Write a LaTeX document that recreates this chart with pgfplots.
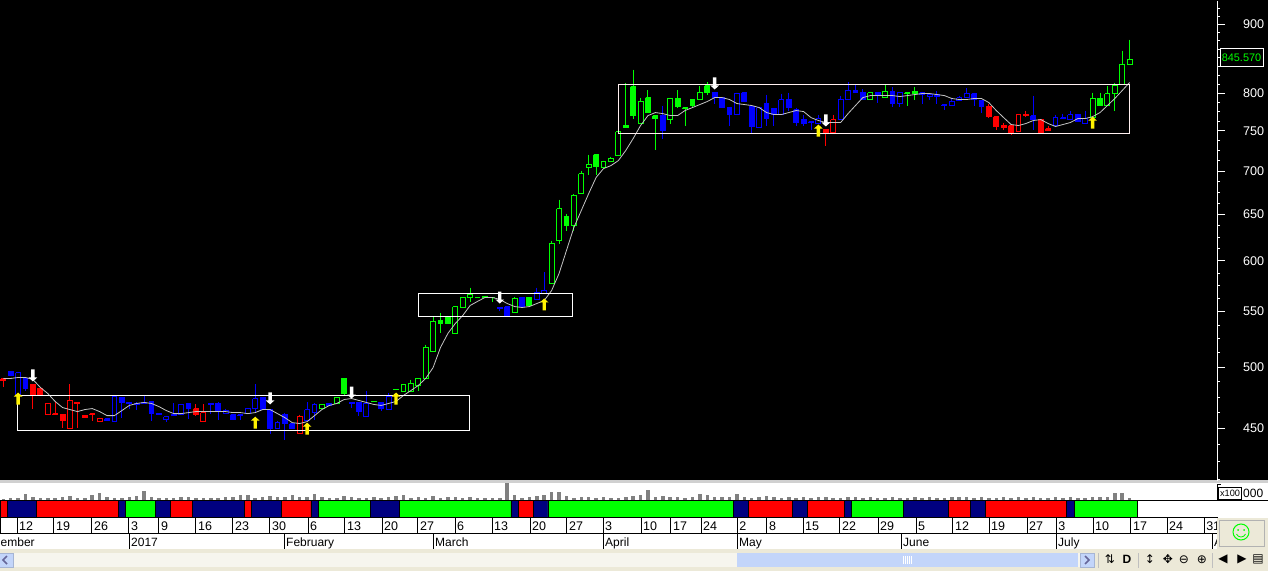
\documentclass[border=0pt]{standalone}
\usepackage{pgfplots}
\pgfplotsset{compat=1.18}
\usepackage{fontspec}
\setmainfont{Liberation Sans}
\newfontfamily\djv{DejaVu Sans}
\definecolor{cr}{HTML}{FF0000}
\definecolor{cb}{HTML}{0000FF}
\definecolor{cg}{HTML}{00FF00}
\definecolor{nv}{HTML}{000080}
\definecolor{vl}{HTML}{808080}
\definecolor{bge}{HTML}{ECE9D8}
\definecolor{trk}{HTML}{F6F5EE}
\definecolor{thb}{HTML}{C3D5FA}
\definecolor{ln}{HTML}{D0D0D0}
\definecolor{mav}{HTML}{C4C4C4}
\definecolor{pk}{HTML}{FFF0F0}
% candle: fill, colour, index, high, body top, body bottom, low
\newcommand\Cd[7]{%
 \pgfmathsetmacro\xa{#3-0.33}\pgfmathsetmacro\xb{#3+0.33}%
 \addplot[#2,line width=1pt] coordinates {(#3,#4)(#3,#7)};
 \addplot[draw=#2,fill=#1,line width=1pt] coordinates {(\xa,#5)(\xb,#5)(\xb,#6)(\xa,#6)(\xa,#5)};
}
\newcommand\Fil[6]{\Cd{#1}{#1}{#2}{#3}{#4}{#5}{#6}}
\newcommand\Hol[6]{\Cd{black}{#1}{#2}{#3}{#4}{#5}{#6}}
\newcommand\Seg[3]{\addplot[fill=#1,draw=black,line width=0.6pt] coordinates {(#2,-17)(#3,-17)(#3,0)(#2,0)(#2,-17)};}
\pgfdeclareplotmark{uparr}{\pgfpathmoveto{\pgfpoint{0pt}{0pt}}\pgfpathlineto{\pgfpoint{4.3pt}{-4pt}}\pgfpathlineto{\pgfpoint{1.7pt}{-4pt}}\pgfpathlineto{\pgfpoint{1.7pt}{-12pt}}\pgfpathlineto{\pgfpoint{-1.7pt}{-12pt}}\pgfpathlineto{\pgfpoint{-1.7pt}{-4pt}}\pgfpathlineto{\pgfpoint{-4.3pt}{-4pt}}\pgfpathclose\pgfusepathqfill}
\pgfdeclareplotmark{dnarr}{\pgfpathmoveto{\pgfpoint{0pt}{0pt}}\pgfpathlineto{\pgfpoint{4.3pt}{4pt}}\pgfpathlineto{\pgfpoint{1.7pt}{4pt}}\pgfpathlineto{\pgfpoint{1.7pt}{12pt}}\pgfpathlineto{\pgfpoint{-1.7pt}{12pt}}\pgfpathlineto{\pgfpoint{-1.7pt}{4pt}}\pgfpathlineto{\pgfpoint{-4.3pt}{4pt}}\pgfpathclose\pgfusepathqfill}
\begin{document}
\begin{tikzpicture}[x=1pt,y=1pt]
\path[use as bounding box] (0,0) rectangle (1268,571);
\clip (0,0) rectangle (1268,571);
\fill[black] (0,91) rectangle (1268,571);
\fill[bge] (0,0) rectangle (1268,91);
\fill[white] (0,22) rectangle (1268,88);
\fill[ln] (0,88.5) rectangle (1268,91);
\begin{axis}[at={(0pt,90.4pt)},anchor=south west,scale only axis,width=1217pt,height=480pt,
 xmin=-0.445,xmax=163.79,ymode=log,ymin=411.6,ymax=937.8,
 axis x line=none,axis y line*=right,
 axis line style={-,white,line width=1pt},
 ytick={450,500,550,600,650,700,750,800,850,900},
 yticklabels={450,500,550,600,650,700,750,800,,900},
 minor ytick={412.5,425,437.5,462.5,475,487.5,512.5,525,537.5,562.5,575,587.5,612.5,625,637.5,662.5,675,687.5,712.5,725,737.5,762.5,775,787.5,812.5,825,837.5,862.5,875,887.5,912.5,925},
 tick style={white,line width=1pt},major tick length=8pt,minor tick length=3pt,tick align=outside,
 yticklabel style={text=white,font=\fontsize{12.6}{14}\selectfont,inner sep=0pt,anchor=west,xshift=18pt}]
\Fil{cr}{0}{490.4}{490.0}{488.7}{482.9}
\Fil{cb}{1}{496.2}{496.2}{492.9}{492.9}
\Hol{cb}{2}{495.4}{495.4}{476.3}{475.5}
\Fil{cb}{3}{490.4}{490.4}{482.1}{480.3}
\Fil{cr}{4}{485.4}{485.4}{476.3}{465.7}
\Fil{cr}{5}{482.9}{482.1}{476.3}{476.3}
\Hol{cr}{6}{469.8}{469.8}{460.9}{460.9}
\Fil{cr}{7}{470.6}{461.7}{461.2}{460.9}
\Fil{cr}{8}{460.9}{460.9}{456.2}{450.8}
\Hol{cr}{9}{485.4}{472.2}{450}{450}
\Fil{cr}{10}{470.6}{470.6}{469.8}{450.8}
\Fil{cr}{11}{460.1}{460.1}{458.5}{458.5}
\Fil{cr}{12}{461.7}{461.7}{460.9}{456.2}
\Hol{cr}{13}{458.5}{457.8}{455.4}{455.4}
\Fil{cb}{14}{457.8}{457.8}{456.2}{456.2}
\Hol{cb}{15}{475.5}{475.5}{455.4}{455.4}
\Fil{cb}{16}{474.6}{474.6}{470.6}{458.5}
\Fil{cb}{17}{470.6}{470.6}{469.8}{465.7}
\Fil{cb}{18}{470.6}{469.8}{469}{464.9}
\Fil{cb}{19}{475.5}{470.6}{469.8}{469.8}
\Fil{cb}{20}{471.4}{471.4}{461.7}{456.2}
\Fil{cb}{21}{461.7}{461.7}{461.3}{461.3}
\Hol{cb}{22}{460.1}{459.3}{457}{455.4}
\Fil{cb}{23}{469.8}{460.9}{460.1}{460.1}
\Hol{cb}{24}{469}{469}{460.9}{460.9}
\Fil{cb}{25}{469.8}{469.8}{465.7}{457.8}
\Fil{cr}{26}{469}{465.7}{460.9}{460.1}
\Hol{cr}{27}{469}{462.5}{455.4}{455.4}
\Fil{cb}{28}{469.8}{469.8}{469}{461.7}
\Fil{cb}{29}{470.6}{469.8}{464.1}{457}
\Hol{cb}{30}{465.7}{464.1}{461.7}{461.7}
\Fil{cb}{31}{460.9}{460.9}{457}{457}
\Fil{cb}{32}{460.9}{460.9}{460.1}{457}
\Hol{cb}{33}{465.7}{465.7}{461.7}{461.7}
\Hol{cb}{34}{485.4}{473.8}{465.7}{462.5}
\Fil{cb}{35}{474.6}{474.6}{464.9}{464.9}
\Fil{cb}{36}{464.9}{464.9}{450}{446.2}
\Hol{cb}{37}{456.2}{454.6}{450}{450}
\Fil{cb}{38}{462.5}{460.9}{453.9}{441.6}
\Fil{cb}{39}{453.9}{453.9}{450}{450}
\Hol{cr}{40}{460.9}{459.3}{446.2}{446.2}
\Hol{cb}{41}{470.6}{464.9}{456.2}{456.2}
\Hol{cb}{42}{469.8}{469}{462.5}{457}
\Hol{cg}{43}{469}{469}{465.7}{465.7}
\Fil{cb}{44}{469.8}{469.8}{468.2}{468.2}
\Hol{cg}{45}{474.6}{474.6}{469.8}{469.8}
\Fil{cg}{46}{490.4}{490.4}{477.9}{476.3}
\Fil{cb}{47}{470.6}{470.6}{469.8}{466.5}
\Fil{cb}{48}{470.6}{470.6}{463.3}{460.1}
\Hol{cb}{49}{480.3}{469.8}{459.3}{459.3}
\Fil{cg}{50}{471.4}{471.4}{471}{471}
\Fil{cb}{51}{470.6}{470.6}{465.7}{464.1}
\Hol{cb}{52}{478.7}{475.5}{464.9}{464.9}
\Fil{cg}{53}{481.2}{481.2}{480.8}{480.8}
\Hol{cg}{54}{485.4}{485.4}{479.5}{479.5}
\Hol{cg}{55}{489.5}{486.2}{479.5}{479.5}
\Hol{cg}{56}{490.4}{490.4}{484.5}{480.3}
\Hol{cg}{57}{519.8}{517.2}{490.4}{490.4}
\Hol{cg}{58}{544.5}{540.8}{513.6}{513.6}
\Fil{cg}{59}{549.1}{541.7}{538.9}{529.8}
\Fil{cg}{60}{546.3}{544.5}{538.9}{538.9}
\Hol{cg}{61}{554.8}{554.8}{529.8}{529.8}
\Hol{cg}{62}{563.5}{563.5}{553.9}{553.9}
\Hol{cg}{63}{573.2}{566.4}{563.5}{558.7}
\Fil{cg}{64}{563.5}{563.5}{563.0}{563.0}
\Fil{cg}{65}{564.5}{564.5}{563.5}{563.5}
\Fil{cg}{66}{563.5}{563.5}{563}{558.7}
\Fil{cb}{67}{553.9}{553.9}{552.9}{551}
\Fil{cb}{68}{554.8}{554.8}{545.4}{545.4}
\Hol{cg}{69}{563.5}{562.5}{549.1}{549.1}
\Fil{cb}{70}{563.5}{563.5}{554.8}{554.8}
\Fil{cg}{71}{563.5}{563.5}{555.8}{555.8}
\Hol{cb}{72}{573.2}{568.3}{561.6}{561.6}
\Hol{cb}{73}{588.2}{570.3}{567.4}{567.4}
\Hol{cg}{74}{621.3}{618.1}{577.2}{577.2}
\Hol{cg}{75}{666.6}{656.4}{621.3}{618.1}
\Fil{cg}{76}{650.8}{647.5}{637.6}{632.1}
\Hol{cg}{77}{672.4}{671.3}{637.6}{632.1}
\Hol{cg}{78}{700.6}{697}{673.5}{673.5}
\Hol{cg}{79}{720.1}{707.9}{704.2}{695.8}
\Fil{cg}{80}{720.1}{720.1}{705.4}{695.8}
\Hol{cg}{81}{712.7}{711.5}{704.2}{704.2}
\Hol{cg}{82}{717.6}{715.2}{711.5}{711.5}
\Hol{cg}{83}{749.1}{749.1}{718.9}{718.9}
\Fil{cg}{84}{813.4}{756.9}{754.3}{754.3}
\Fil{cg}{85}{833.1}{809.2}{770}{766}
\Hol{cg}{86}{794.1}{788.7}{759.5}{759.5}
\Fil{cg}{87}{803.7}{794.1}{773.9}{773.9}
\Fil{cg}{88}{770}{770}{766}{726.3}
\Fil{cb}{89}{783.3}{770}{750.4}{740.1}
\Hol{cg}{90}{794.1}{792.8}{764.7}{759.5}
\Fil{cg}{91}{803.7}{792.8}{781.9}{779.3}
\Fil{cg}{92}{780.6}{780.6}{779.8}{755.6}
\Fil{cg}{93}{791.4}{791.4}{783.3}{781.9}
\Hol{cg}{94}{810.6}{800.9}{791.4}{791.4}
\Fil{cg}{95}{814.8}{810.6}{800.9}{798.2}
\Fil{cb}{96}{800.9}{800.9}{794.1}{786}
\Fil{cb}{97}{794.1}{794.1}{780.6}{779.3}
\Fil{cb}{98}{780.6}{780.6}{771.3}{756.9}
\Hol{cb}{99}{800.9}{799.6}{771.3}{771.3}
\Fil{cb}{100}{800.9}{800.9}{788.7}{788.7}
\Fil{cb}{101}{781.9}{781.9}{755.6}{746.6}
\Hol{cb}{102}{781.9}{780.6}{754.3}{754.3}
\Fil{cb}{103}{798.2}{786}{766}{756.9}
\Fil{cb}{104}{779.3}{779.3}{771.3}{756.9}
\Hol{cb}{105}{799.6}{791.4}{771.3}{771.3}
\Fil{cb}{106}{800.9}{791.4}{780.6}{776.6}
\Fil{cb}{107}{780.6}{777.9}{760.8}{756.9}
\Fil{cb}{108}{771.3}{764.7}{759.5}{756.9}
\Fil{cb}{109}{762.1}{762.1}{760.8}{751.7}
\Hol{cb}{110}{771.3}{766}{759.5}{759.5}
\Fil{cr}{111}{751.7}{751.7}{746.6}{731.3}
\Hol{cr}{112}{771.3}{764.7}{747.8}{747.8}
\Hol{cb}{113}{796.8}{791.4}{764.7}{764.7}
\Hol{cb}{114}{814.8}{803.7}{791.4}{791.4}
\Fil{cb}{115}{812}{803.7}{800.9}{800.9}
\Fil{cb}{116}{805.1}{800.9}{791.4}{791.4}
\Hol{cg}{117}{800.9}{800.9}{791.4}{791.4}
\Fil{cb}{118}{800.9}{800.9}{798.2}{787.3}
\Hol{cg}{119}{812}{802.3}{794.1}{794.1}
\Fil{cb}{120}{807.9}{802.3}{786}{781.9}
\Hol{cb}{121}{800.9}{800.9}{786}{781.9}
\Fil{cg}{122}{800.9}{800.9}{799.6}{783.3}
\Fil{cg}{123}{809.2}{802.3}{799.6}{791.4}
\Fil{cb}{124}{800.9}{800.9}{798.2}{786}
\Hol{cb}{125}{798.2}{798.2}{795.5}{791.4}
\Fil{cb}{126}{802.3}{798.2}{795.5}{786}
\Fil{cb}{127}{784.6}{784.6}{783.3}{777.9}
\Hol{cb}{128}{792.8}{788.7}{783.3}{783.3}
\Hol{cb}{129}{796.8}{794.1}{790}{790}
\Hol{cb}{130}{806.5}{799.6}{794.1}{794.1}
\Fil{cb}{131}{800.9}{799.6}{791.4}{783.3}
\Fil{cb}{132}{790}{790}{781.9}{774}
\Fil{cr}{133}{786}{781.9}{768.6}{767.3}
\Fil{cr}{134}{768.6}{768.6}{755.6}{751.7}
\Fil{cr}{135}{760.8}{756.9}{754.3}{751.7}
\Fil{cr}{136}{756.9}{756.9}{747.8}{744.1}
\Hol{cr}{137}{771.3}{771.3}{749.1}{749.1}
\Fil{cr}{138}{776.6}{771.3}{770}{768.6}
\Fil{cb}{139}{796.8}{770}{764.7}{751.7}
\Fil{cr}{140}{764.7}{764.7}{747.8}{747.8}
\Fil{cr}{141}{756.9}{753}{750.4}{750.4}
\Hol{cb}{142}{771.3}{767.3}{756.9}{756.9}
\Fil{cb}{143}{772.6}{767.3}{766}{766}
\Hol{cb}{144}{776.6}{771.3}{764.7}{764.7}
\Fil{cb}{145}{771.3}{771.3}{762.1}{762.1}
\Hol{cb}{146}{776.6}{766}{759.5}{759.5}
\Hol{cg}{147}{800.9}{792.8}{767.3}{767.3}
\Fil{cg}{148}{800.9}{792.8}{783.3}{783.3}
\Hol{cg}{149}{810.6}{799.6}{783.3}{783.3}
\Hol{cg}{150}{813.4}{810.6}{799.6}{776.6}
\Hol{cg}{151}{860.7}{840.4}{812}{812}
\Hol{cg}{152}{877.1}{847.6}{840.4}{840.4}
% moving average
\addplot[mav,line width=0.8pt] table[row sep=crcr] {
0 490.4\\1 490.4\\2 491.2\\3 491.2\\4 489.5\\5 482.9\\6 477.9\\7 471.4\\8 466.5\\9 464.9\\10 463.3\\11 464.9\\12 465.7\\13 463.3\\14 460.1\\15 460.1\\16 464.1\\17 468.2\\18 469.8\\19 470.6\\20 469.8\\21 467.3\\22 464.1\\23 461.7\\24 461.7\\25 462.5\\26 463.3\\27 463.3\\28 463.3\\29 463.3\\30 463.3\\31 462.5\\32 462.5\\33 461.7\\34 462.5\\35 464.9\\36 464.9\\37 461.7\\38 458.5\\39 454.6\\40 453.9\\41 455.4\\42 460.1\\43 464.9\\44 468.2\\45 469.8\\46 473\\47 473.8\\48 472.2\\49 470.6\\50 469\\51 468.2\\52 469.8\\53 471.4\\54 476.3\\55 480.3\\56 484.5\\57 490.4\\58 499.6\\59 517.2\\60 529.8\\61 538.9\\62 546.3\\63 555.8\\64 559.7\\65 563.5\\66 563.5\\67 561.6\\68 557.7\\69 554.8\\70 553.9\\71 554.8\\72 557.7\\73 560.6\\74 570.3\\75 587.2\\76 610.8\\77 635.4\\78 654.2\\79 673.5\\80 692.3\\81 703\\82 706.6\\83 712.7\\84 725.1\\85 740.1\\86 756.9\\87 770\\88 773.9\\89 772.6\\90 770\\91 770\\92 776.6\\93 780.6\\94 784.6\\95 788.7\\96 794.1\\97 794.1\\98 791.4\\99 786\\100 784.6\\101 783.3\\102 780.6\\103 773.9\\104 771.3\\105 771.3\\106 773.9\\107 776.6\\108 775.2\\109 767.3\\110 763.4\\111 760.8\\112 760.8\\113 760.8\\114 772.6\\115 783.3\\116 794.1\\117 796.8\\118 796.8\\119 796.8\\120 796.8\\121 795.5\\122 796.8\\123 798.2\\124 799.6\\125 799.6\\126 798.2\\127 796.8\\128 792.8\\129 791.4\\130 791.4\\131 792.8\\132 792.8\\133 787.3\\134 776.6\\135 767.3\\136 758.2\\137 756.9\\138 759.5\\139 763.4\\140 764.7\\141 759.5\\142 755.6\\143 758.2\\144 760.8\\145 766\\146 766\\147 768.6\\148 773.9\\149 783.3\\150 792.8\\151 803.7\\152 814.8\\
};
% consolidation boxes
\addplot[white,line width=1pt] coordinates {(1.95,476.3)(62.85,476.3)(62.85,448.5)(1.95,448.5)(1.95,476.3)};
\addplot[white,line width=1pt] coordinates {(56.02,567.4)(76.84,567.4)(76.84,545.4)(56.02,545.4)(56.02,567.4)};
\addplot[pk,line width=1pt] coordinates {(82.96,812)(151.95,812)(151.95,746.6)(82.96,746.6)(82.96,812)};
% signals
\addplot[only marks,mark=uparr,yellow] coordinates {(2,478.7)(34,459.3)(41,454.6)(53,478.7)(73,562.5)(110,758.2)(147,768.6)};
\addplot[only marks,mark=dnarr,white] coordinates {(4,487.9)(36,469)(47,473.8)(67,557.7)(96,805.1)(111,755.6)};
\end{axis}
% volume and trend band
\begin{axis}[at={(0pt,54pt)},anchor=south west,scale only axis,width=1217pt,height=34pt,
 xmin=-0.445,xmax=163.79,ymin=-17,ymax=17,axis lines=none]
\addplot[ycomb,vl,line width=3.5pt] table[row sep=crcr] {
0 1\\1 2\\2 2\\3 6\\4 3\\5 2\\6 2\\7 2\\8 3\\9 4\\10 2\\11 2\\12 5\\13 7\\14 3\\15 2\\16 2\\17 3\\18 4\\19 9\\20 3\\21 2\\22 2\\23 2\\24 3\\25 3\\26 2\\27 2\\28 2\\29 2\\30 3\\31 3\\32 5\\33 5\\34 2\\35 3\\36 4\\37 3\\38 3\\39 5\\40 3\\41 3\\42 6\\43 3\\44 2\\45 2\\46 4\\47 3\\48 2\\49 2\\50 3\\51 2\\52 3\\53 4\\54 5\\55 2\\56 3\\57 2\\58 4\\59 2\\60 3\\61 3\\62 2\\63 3\\64 2\\65 2\\66 2\\67 2\\68 17\\69 5\\70 2\\71 3\\72 4\\73 5\\74 8\\75 8\\76 4\\77 2\\78 3\\79 3\\80 2\\81 3\\82 2\\83 2\\84 3\\85 4\\86 5\\87 10\\88 3\\89 4\\90 3\\91 3\\92 2\\93 3\\94 6\\95 5\\96 3\\97 3\\98 3\\99 6\\100 3\\101 2\\102 3\\103 4\\104 3\\105 2\\106 3\\107 2\\108 3\\109 2\\110 3\\111 3\\112 2\\113 2\\114 3\\115 3\\116 2\\117 3\\118 2\\119 2\\120 3\\121 2\\122 2\\123 3\\124 2\\125 3\\126 2\\127 2\\128 3\\129 3\\130 3\\131 2\\132 3\\133 2\\134 2\\135 3\\136 2\\137 3\\138 2\\139 3\\140 2\\141 2\\142 3\\143 2\\144 3\\145 2\\146 2\\147 3\\148 3\\149 3\\150 7\\151 7\\152 2\\
};
\Seg{cr}{-0.4}{0.5}\Seg{nv}{0.5}{4.5}\Seg{cr}{4.5}{15.5}\Seg{nv}{15.5}{16.5}\Seg{cg}{16.5}{20.5}\Seg{nv}{20.5}{22.5}\Seg{cr}{22.5}{25.5}\Seg{nv}{25.5}{32.5}\Seg{cr}{32.5}{33.5}\Seg{nv}{33.5}{37.5}\Seg{cr}{37.5}{41.5}\Seg{nv}{41.5}{42.5}\Seg{cg}{42.5}{49.5}\Seg{nv}{49.5}{53.5}\Seg{cg}{53.5}{68.5}\Seg{nv}{68.5}{69.5}\Seg{cr}{69.5}{71.5}\Seg{nv}{71.5}{73.5}\Seg{cg}{73.5}{98.5}\Seg{nv}{98.5}{100.5}\Seg{cr}{100.5}{106.5}\Seg{nv}{106.5}{108.5}\Seg{cr}{108.5}{113.5}\Seg{nv}{113.5}{114.5}\Seg{cg}{114.5}{121.5}\Seg{nv}{121.5}{127.5}\Seg{cr}{127.5}{130.5}\Seg{nv}{130.5}{132.5}\Seg{cr}{132.5}{143.5}\Seg{nv}{143.5}{144.5}\Seg{cg}{144.5}{153}
\end{axis}
% date row
\begin{axis}[at={(0pt,38pt)},anchor=south west,scale only axis,width=1217pt,height=16pt,
 xmin=-0.445,xmax=163.79,ymin=0,ymax=1,ytick=\empty,
 axis line style={black,line width=1pt},
 xtick pos=bottom,tick align=inside,major tick length=16pt,tick style={black,line width=1pt},
 xtick={1.85,6.84,11.97,16.96,21.01,26,30.99,35.99,41.12,46.11,51.11,55.96,60.96,65.95,71.08,76.07,80.93,86.06,90.1,94.16,99.02,103.06,107.92,112.91,118.04,123.17,128.16,133.02,138.15,142.07,147.06,152.18,157.04,162.04},
 xticklabels={12,19,26,3,9,16,23,30,6,13,20,27,6,13,20,27,3,10,17,24,2,8,15,22,29,5,12,19,27,3,10,17,24,31},
 xticklabel style={font=\fontsize{12.5}{14}\selectfont,anchor=base west,inner sep=0pt,yshift=3pt,xshift=2pt}]
\addplot[draw=none] coordinates {(0,0)};
\end{axis}
\begin{scope}[x=1pt,y=-1pt,yshift=571pt]
% rows
\draw[black,line width=1pt] (0,500) -- (1268,500);
\draw[black,line width=1pt] (0,517) -- (1217,517);
\draw[black,line width=1pt] (0,533.5) -- (1217,533.5);
\foreach \x in {129,284,433,603,737,901,1056,1212} \draw[black,line width=1pt] (\x,533.5) -- (\x,549);
\foreach \x/\t in {131/2017,286/February,435/March,605/April,739/May,903/June,1058/July,1214/A}
 \node[anchor=base west,inner sep=0pt,font=\fontsize{12}{14}\selectfont] at (\x,546.5) {\t};
\node[anchor=base west,inner sep=0pt,font=\fontsize{12}{14}\selectfont] at (0.5,546.5) {ember};
% right side panel
\fill[bge] (1217,517.5) rectangle (1268,549);
\draw[gray!60] (1219.5,520.5) rectangle (1264.5,546);
\draw[cg,line width=1pt] (1241,532) circle (8);
\fill[cg] (1238,530) circle (1) (1244,530) circle (1);
\draw[cg,line width=0.8pt] (1236.5,534) .. controls (1238,538) and (1244,538) .. (1245.5,534);
% volume scale
\draw[black,line width=1pt] (1217.5,484) -- (1217.5,500);
\foreach \y in {484,487,490,493,496} \draw[black] (1217.5,\y) -- (1221,\y);
\node[draw=black,fill=white,inner sep=0pt,minimum width=23pt,minimum height=12pt,font=\fontsize{9.2}{10}\selectfont] at (1230,493) {x100};
\node[anchor=base west,inner sep=0pt,font=\fontsize{12}{14}\selectfont] at (1243,497.5) {000};
% last price
\node[draw=white,fill=black,text=cg,inner sep=0pt,minimum width=43pt,minimum height=18pt,line width=1pt,font=\fontsize{10.9}{12}\selectfont] at (1241.5,58) {845.570};
% scrollbar
\fill[trk] (0,553) rectangle (1094,567);
\fill[thb] (737,553) rectangle (1078,567);
\draw[thb!85!black,line width=0.6pt,fill=thb] (1080,553.5) rectangle (1094,567);
\draw[thb!85!black,line width=0.6pt,fill=thb] (-2,553.5) rectangle (13,567);
\draw[gray!80!blue,line width=1.6pt] (1085,556) -- (1089,560) -- (1085,564);
\draw[gray!80!blue,line width=1.6pt] (7,556) -- (3,560) -- (7,564);
\foreach \x in {903,905,907,909,911} \draw[white,line width=0.7pt] (\x,556) -- (\x,564);
\foreach \x in {1098,1138,1212} \draw[gray!50] (\x,553) -- (\x,568);
\foreach \x/\t in {1110/⇅,1150/↕,1168/✥,1184/⊖,1202/⊕,1223/◀,1242/▶,1258/▤}
 \node[font=\djv\fontsize{12}{14}\selectfont,inner sep=0pt] at (\x,559.5) {\t};
\node[font=\fontsize{12}{14}\selectfont\bfseries,inner sep=0pt] at (1127,559.5) {D};
\end{scope}
\end{tikzpicture}
\end{document}
